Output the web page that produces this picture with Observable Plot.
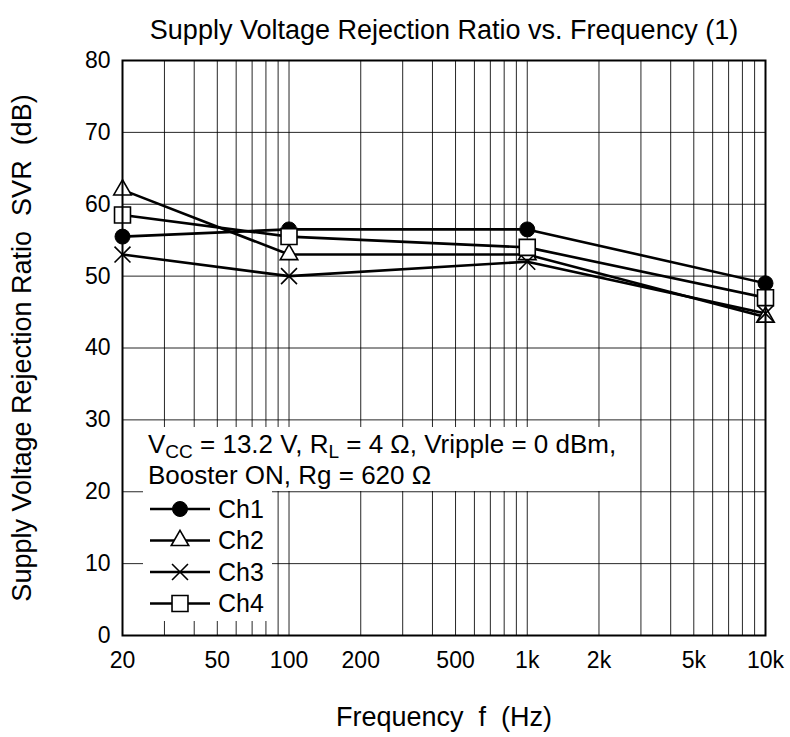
<!DOCTYPE html>
<html>
<head>
<meta charset="utf-8">
<script src="https://cdn.jsdelivr.net/npm/d3@7"></script>
<script src="https://cdn.jsdelivr.net/npm/@observablehq/plot@0.6"></script>
<style>
  html, body { margin: 0; padding: 0; background: white; }
</style>
</head>
<body>
<div id="chart"></div>
<script>
// ---- data ----
const freqs = [20, 100, 1000, 10000];
const ch1 = [55.5, 56.5, 56.5, 49];
const ch2 = [62, 53, 53, 44.3];
const ch3 = [53, 50, 52, 44.8];
const ch4 = [58.5, 55.5, 54, 47];
const seriesNames = ["Ch1", "Ch2", "Ch3", "Ch4"];
const xTicks = [20, 50, 100, 200, 500, 1000, 2000, 5000, 10000];
const xTickLabels = ["20", "50", "100", "200", "500", "1k", "2k", "5k", "10k"];
const yTicks = [0, 10, 20, 30, 40, 50, 60, 70, 80];
const xGrid = [20, 30, 40, 50, 60, 70, 80, 90,
               100, 200, 300, 400, 500, 600, 700, 800, 900,
               1000, 2000, 3000, 4000, 5000, 6000, 7000, 8000, 9000, 10000];
const titleText = "Supply Voltage Rejection Ratio vs. Frequency (1)";
const xLabelText = "Frequency\u00a0 f\u00a0 (Hz)";
const yLabelText = "Supply Voltage Rejection Ratio\u00a0 SVR\u00a0 (dB)";

// ---- build ----
const FONT = "'Liberation Sans', Arial, Helvetica, sans-serif";
const toRows = (vals, name) => freqs.map((f, i) => ({f, v: vals[i], s: name}));
const rows = [toRows(ch1, "Ch1"), toRows(ch2, "Ch2"), toRows(ch3, "Ch3"), toRows(ch4, "Ch4")];
const xTickRows = xTicks.map((t, i) => ({t, label: xTickLabels[i]}));

const symbolStyle = {
  Ch1: {symbol: "circle", r: 7.5, fill: "black", stroke: "black", strokeWidth: 1},
  Ch2: {symbol: "triangle", r: 6.5, fill: "white", stroke: "black", strokeWidth: 1.6},
  Ch3: {symbol: "times", r: 7.3, fill: "none", stroke: "black", strokeWidth: 1.6},
  Ch4: {symbol: "square", r: 9, fill: "white", stroke: "black", strokeWidth: 1.6}
};

const W = 790, H = 737, ML = 122, MR = 25, MT = 60, MB = 102;

const plot = Plot.plot({
  width: W, height: H,
  marginLeft: ML, marginRight: MR, marginTop: MT, marginBottom: MB,
  style: {fontFamily: FONT, fontSize: "23px", background: "white", color: "black", overflow: "visible"},
  x: {type: "log", domain: [20, 10000], axis: null},
  y: {domain: [0, 80], ticks: yTicks, tickSize: 0, tickPadding: 12, label: null},
  marks: [
    Plot.ruleX(xGrid, {stroke: "black", strokeWidth: 1, strokeOpacity: 0.85}),
    Plot.ruleY(yTicks, {stroke: "black", strokeWidth: 1, strokeOpacity: 0.85}),
    ...rows.map(r => Plot.line(r, {x: "f", y: "v", stroke: "black", strokeWidth: 2.6})),
    ...rows.map((r, i) => Plot.dot(r, {x: "f", y: "v", ...symbolStyle[seriesNames[i]]})),
    Plot.frame({stroke: "black", strokeWidth: 2}),
    Plot.text(xTickRows, {x: "t", text: "label", frameAnchor: "bottom", dy: 25, fontSize: 23, lineAnchor: "middle", textAnchor: "middle"}),
    Plot.text([titleText], {frameAnchor: "top", dy: -30, fontSize: 27, lineAnchor: "middle", textAnchor: "middle"}),
    Plot.text([xLabelText], {frameAnchor: "bottom", dy: 82, fontSize: 27, lineAnchor: "middle", textAnchor: "middle"}),
    Plot.text([yLabelText], {frameAnchor: "left", dx: -100, rotate: -90, fontSize: 27, lineAnchor: "middle", textAnchor: "middle"})
  ]
});
document.getElementById("chart").appendChild(plot);

// ---- annotation + legend (drawn into the same SVG) ----
const svg = d3.select(plot);
const g = svg.append("g").attr("font-family", FONT).attr("font-size", 26)
  .attr("fill", "black").attr("text-anchor", "start");

// white backgrounds covering the grid
g.append("rect").attr("x", 143).attr("y", 427).attr("width", 472).attr("height", 64).attr("fill", "white");
g.append("rect").attr("x", 143).attr("y", 491).attr("width", 129).attr("height", 130).attr("fill", "white");

const t1 = g.append("text").attr("x", 148).attr("y", 453);
t1.append("tspan").text("V");
t1.append("tspan").attr("font-size", 19).attr("dy", 5).text("CC");
t1.append("tspan").attr("dy", -5).text(" = 13.2 V, R");
t1.append("tspan").attr("font-size", 19).attr("dy", 5).text("L");
t1.append("tspan").attr("dy", -5).text(" = 4 \u03a9, Vripple = 0 dBm,");
g.append("text").attr("x", 148).attr("y", 484).text("Booster ON, Rg = 620 \u03a9");

const symMap = {circle: d3.symbolCircle, triangle: d3.symbolTriangle, times: d3.symbolTimes, square: d3.symbolSquare};
seriesNames.forEach((name, i) => {
  const cy = 509 + i * 31.5;
  const st = symbolStyle[name];
  g.append("line").attr("x1", 150).attr("x2", 210).attr("y1", cy).attr("y2", cy)
    .attr("stroke", "black").attr("stroke-width", 2.6);
  g.append("path")
    .attr("d", d3.symbol(symMap[st.symbol], st.r * st.r * Math.PI)())
    .attr("transform", `translate(180,${cy})`)
    .attr("fill", st.fill).attr("stroke", st.stroke).attr("stroke-width", st.strokeWidth);
  g.append("text").attr("x", 218).attr("y", cy).attr("dy", "0.35em").attr("font-size", 25).text(name);
});
</script>
</body>
</html>
